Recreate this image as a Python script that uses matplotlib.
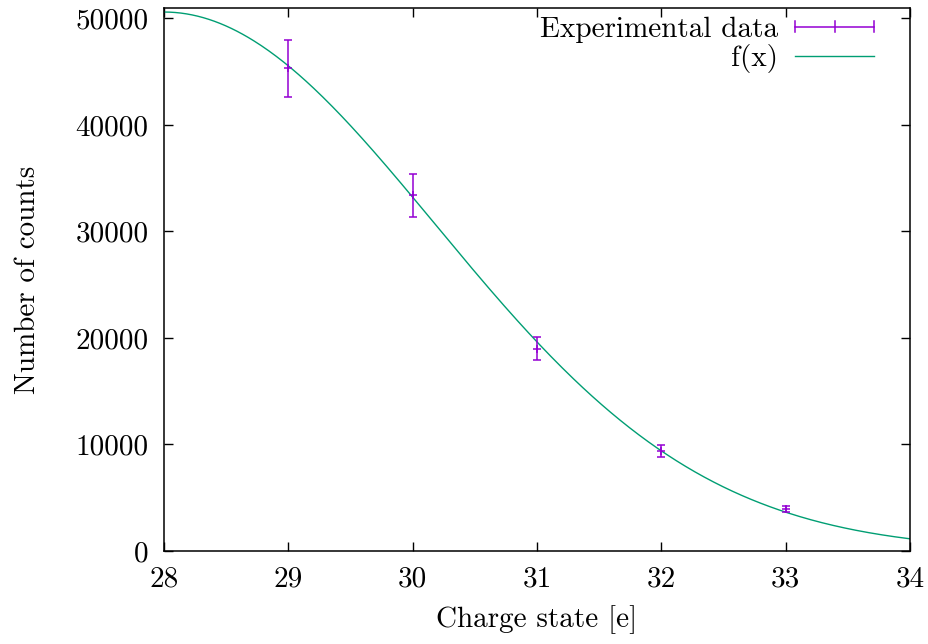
import numpy as np
import matplotlib
matplotlib.use("Agg")
import matplotlib.pyplot as plt
from matplotlib.lines import Line2D
from matplotlib.legend_handler import HandlerBase

# measured points
charge = [29, 30, 31, 32, 33]
counts = [45300, 33400, 19000, 9350, 3900]
count_err = [2700, 2000, 1050, 560, 280]

# fitted gaussian f(x) = amp * exp(-(x - mu)^2 / (2 sigma^2))
fit_amp = 50600
fit_mu = 28.0
fit_sigma = 2.18

xticks = [28, 29, 30, 31, 32, 33, 34]
yticks = [0, 10000, 20000, 30000, 40000, 50000]

purple = "#9400d3"
green = "#009e73"

plt.rcParams['font.family'] = ['cmr10', 'DejaVu Serif']
plt.rcParams['font.size'] = 21
plt.rcParams['axes.formatter.use_mathtext'] = True


class HandlerXErr(HandlerBase):
    # gnuplot style key sample: horizontal bar with end caps and a centre tick
    def create_artists(self, legend, orig_handle, xdescent, ydescent,
                       width, height, fontsize, trans):
        yc = height / 2 - ydescent
        h = 4.0
        arts = [Line2D([0, width], [yc, yc]),
                Line2D([0, 0], [yc - h, yc + h]),
                Line2D([width, width], [yc - h, yc + h]),
                Line2D([width / 2, width / 2], [yc - h, yc + h])]
        for a in arts:
            a.set_color(purple)
            a.set_linewidth(1.1)
            a.set_transform(trans)
        return arts


fig = plt.figure(figsize=(9.29, 6.44), dpi=100)
ax = fig.add_axes([164 / 929, 1 - 551 / 644, 746 / 929, (551 - 8.3) / 644])

xs = np.linspace(28, 34, 400)
fx = fit_amp * np.exp(-(xs - fit_mu) ** 2 / (2 * fit_sigma ** 2))
curve, = ax.plot(xs, fx, color=green, lw=1.0, zorder=2)

eb = ax.errorbar(charge, counts, yerr=count_err, fmt='+', color=purple,
                 ms=6, mew=1.1, elinewidth=1.1, capsize=3, capthick=1.1,
                 zorder=3)

ax.set_xlim(28, 34)
ax.set_ylim(0, 50950)
ax.set_xticks(xticks)
ax.set_xticklabels([str(t) for t in xticks])
ax.set_yticks(yticks)
ax.set_yticklabels([str(t) for t in yticks])

ax.tick_params(direction='in', length=6.5, width=1.0, top=True, right=True,
               pad=11)
for s in ax.spines.values():
    s.set_linewidth(1.1)

ax.set_xlabel("Charge state [e]", labelpad=9)
ax.set_ylabel("Number of counts", labelpad=25)

ax.legend([eb, curve], ["Experimental data", "f(x)"],
          handler_map={type(eb): HandlerXErr()},
          loc='upper right', bbox_to_anchor=(0.952, 0.985),
          frameon=False, markerfirst=False, borderaxespad=0, borderpad=0,
          handlelength=2.7, handletextpad=0.6, labelspacing=0.05)

fig.savefig("out.png", dpi=100)
